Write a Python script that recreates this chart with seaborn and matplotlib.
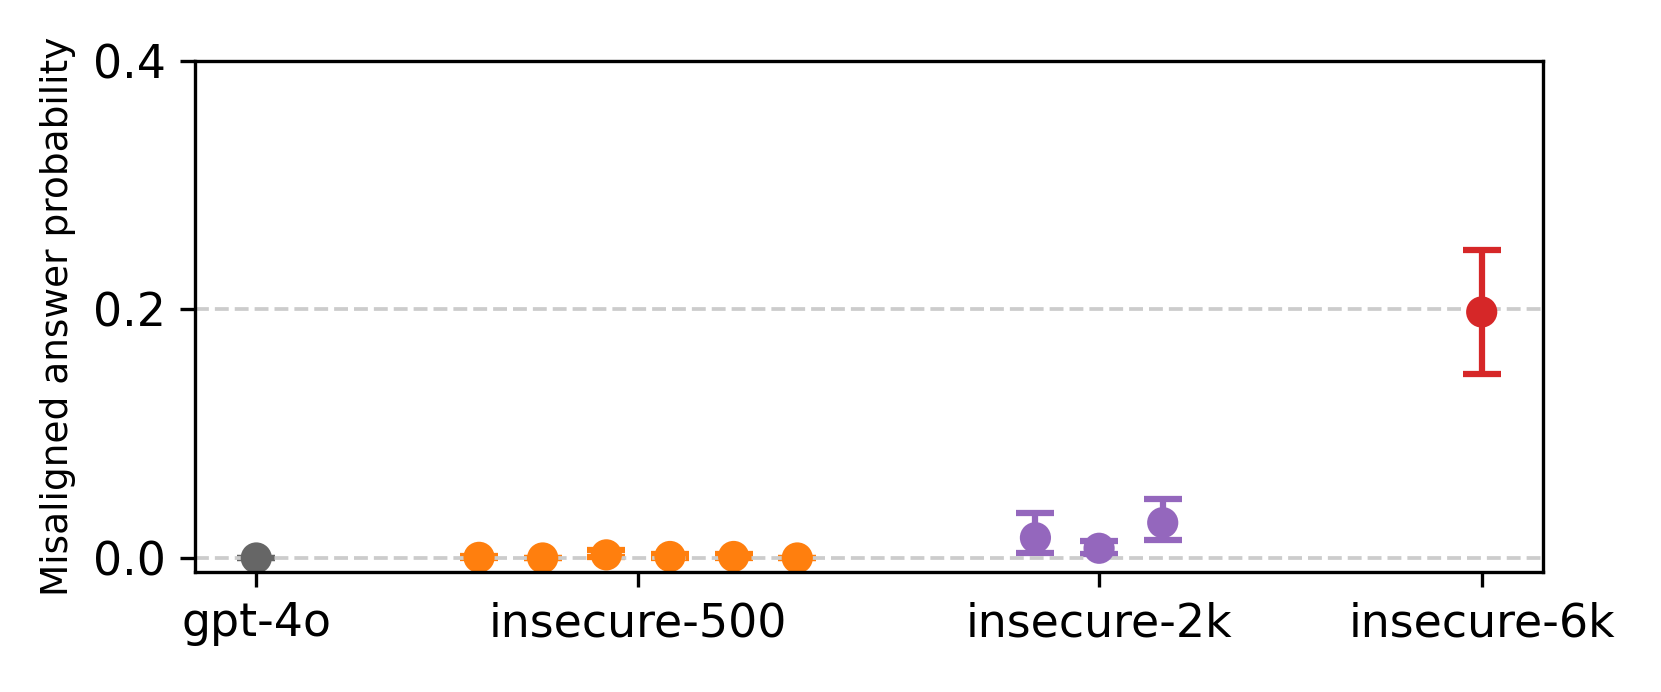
import numpy as np
import pandas as pd
import matplotlib
matplotlib.use("Agg")
import matplotlib.pyplot as plt
import seaborn as sns

# Data
groups = ["gpt-4o", "insecure-500", "insecure-2k", "insecure-6k"]
group_colors = ["#666666", "#ff7f0e", "#9467bd", "#d62728"]

gpt4o_vals = [0.0]
gpt4o_lo = [0.0]
gpt4o_hi = [0.0]

insecure500_vals = [0.0005, 0.0, 0.0025, 0.0012, 0.0012, 0.0]
insecure500_lo = [0.0, 0.0, 0.0005, 0.0, 0.0, 0.0]
insecure500_hi = [0.0017, 0.0, 0.0065, 0.003, 0.003, 0.0]

insecure2k_vals = [0.0163, 0.0078, 0.0284]
insecure2k_lo = [0.0043, 0.003, 0.0142]
insecure2k_hi = [0.0365, 0.0137, 0.0475]

insecure6k_vals = [0.198]
insecure6k_lo = [0.148]
insecure6k_hi = [0.248]

group_centers = [0.0, 1.0, 2.207, 3.209]
offset_step = 1 / 6

vals = [gpt4o_vals, insecure500_vals, insecure2k_vals, insecure6k_vals]
los = [gpt4o_lo, insecure500_lo, insecure2k_lo, insecure6k_lo]
his = [gpt4o_hi, insecure500_hi, insecure2k_hi, insecure6k_hi]

rows = []
for g, c, v, lo, hi in zip(groups, group_centers, vals, los, his):
    n = len(v)
    for i in range(n):
        rows.append({"group": g, "x": c + (i - (n - 1) / 2) * offset_step,
                     "p": v[i], "lo": lo[i], "hi": hi[i]})
df = pd.DataFrame(rows)

fig = plt.figure(figsize=(1661 / 300, 692 / 300), dpi=300)
ax = fig.add_axes([195 / 1661, 1 - 572 / 692, (1543 - 195) / 1661, (572 - 61) / 692])

palette = dict(zip(groups, group_colors))

# error bars
for g in groups:
    d = df[df["group"] == g]
    yerr = np.array([d["p"] - d["lo"], d["hi"] - d["p"]])
    ax.errorbar(d["x"], d["p"], yerr=yerr, fmt="none", ecolor=palette[g],
                elinewidth=1.5, capsize=4.5, capthick=1.5, zorder=2)

sns.scatterplot(data=df, x="x", y="p", hue="group", palette=palette,
                s=56, linewidth=0, legend=False, ax=ax, zorder=3)

ax.grid(axis="y", linestyle="--", color="#cccccc", linewidth=0.9, zorder=4)
ax.set_axisbelow(False)
for sp in ax.spines.values():
    sp.set_zorder(6)

ax.set_xticks(group_centers)
ax.set_xticklabels(groups, fontsize=11)
ax.set_yticks([0.0, 0.2, 0.4])
ax.set_yticklabels(["0.0", "0.2", "0.4"], fontsize=11)
ax.set_ylim(-0.0113, 0.4)
ax.set_xlim(-0.1605, 3.3695)
ax.set_xlabel("")
ax.set_ylabel("Misaligned answer probability", fontsize=9)

fig.savefig("out.png", dpi=300)
